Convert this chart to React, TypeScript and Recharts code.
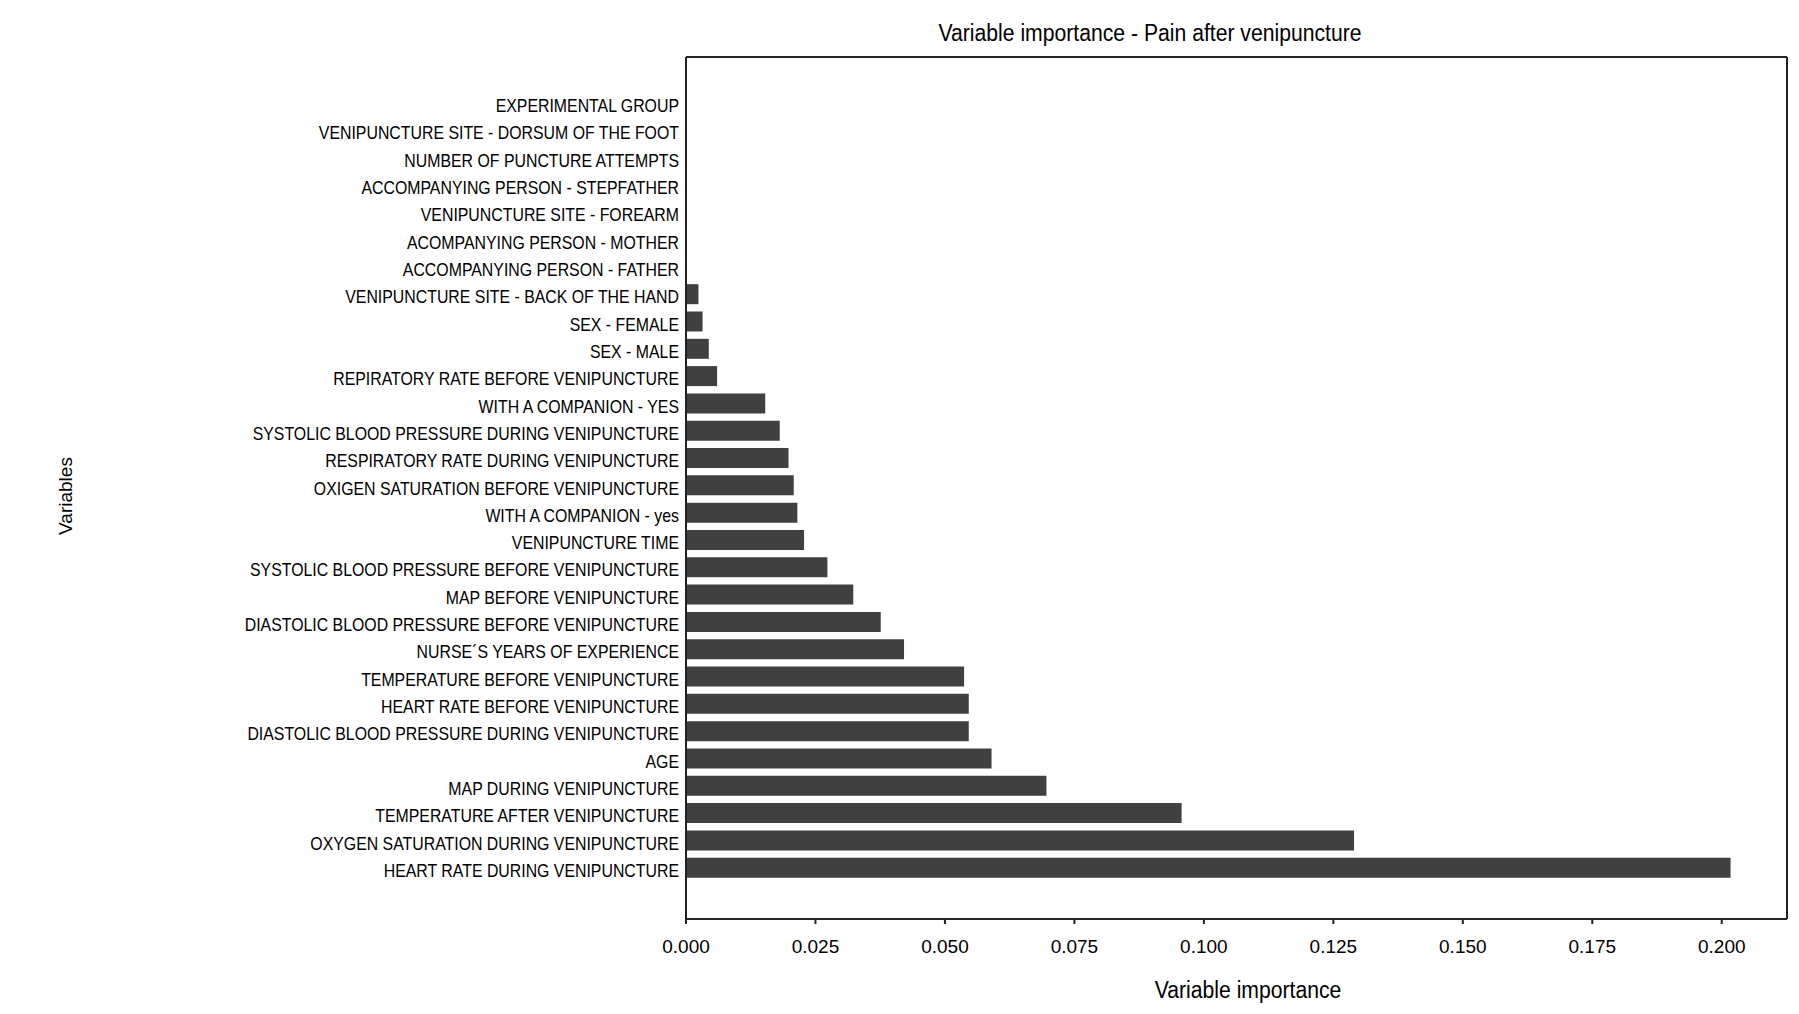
import React from "react";
import { BarChart, Bar, XAxis, YAxis, CartesianGrid } from "recharts";

const variables: string[] = [
  "EXPERIMENTAL GROUP",
  "VENIPUNCTURE SITE - DORSUM OF THE FOOT",
  "NUMBER OF PUNCTURE ATTEMPTS",
  "ACCOMPANYING PERSON - STEPFATHER",
  "VENIPUNCTURE SITE - FOREARM",
  "ACOMPANYING PERSON - MOTHER",
  "ACCOMPANYING PERSON - FATHER",
  "VENIPUNCTURE SITE - BACK OF THE HAND",
  "SEX - FEMALE",
  "SEX - MALE",
  "REPIRATORY RATE BEFORE VENIPUNCTURE",
  "WITH A COMPANION - YES",
  "SYSTOLIC BLOOD PRESSURE DURING VENIPUNCTURE",
  "RESPIRATORY RATE DURING VENIPUNCTURE",
  "OXIGEN SATURATION BEFORE VENIPUNCTURE",
  "WITH A COMPANION - yes",
  "VENIPUNCTURE TIME",
  "SYSTOLIC BLOOD PRESSURE BEFORE VENIPUNCTURE",
  "MAP BEFORE VENIPUNCTURE",
  "DIASTOLIC BLOOD PRESSURE BEFORE VENIPUNCTURE",
  "NURSE´S YEARS OF EXPERIENCE",
  "TEMPERATURE BEFORE VENIPUNCTURE",
  "HEART RATE BEFORE VENIPUNCTURE",
  "DIASTOLIC BLOOD PRESSURE DURING VENIPUNCTURE",
  "AGE",
  "MAP DURING VENIPUNCTURE",
  "TEMPERATURE AFTER VENIPUNCTURE",
  "OXYGEN SATURATION DURING VENIPUNCTURE",
  "HEART RATE DURING VENIPUNCTURE",
];

const importance: number[] = [
  0, 0, 0, 0, 0, 0, 0,
  0.0024, 0.0032, 0.0044, 0.006, 0.0153, 0.0181, 0.0198, 0.0208, 0.0215,
  0.0228, 0.0273, 0.0323, 0.0376, 0.0421, 0.0537, 0.0546, 0.0546, 0.059,
  0.0696, 0.0957, 0.129, 0.2017,
];

const xTicks: number[] = [0, 0.025, 0.05, 0.075, 0.1, 0.125, 0.15, 0.175, 0.2];

const data = variables.map((name, i) => ({ name, value: importance[i] }));

const font = "'Liberation Sans', Arial, sans-serif";

const CategoryTick = (props: any) => {
  const { x, y, payload } = props;
  return (
    <text
      transform={`translate(${x},${y + 3}) scale(0.835,1)`}
      textAnchor="end"
      dominantBaseline="central"
      fontFamily={font}
      fontSize={19}
      fill="#000"
    >
      {payload.value}
    </text>
  );
};

export default function App() {
  return (
    <div
      style={{
        position: "absolute",
        left: 0,
        top: 0,
        width: 1799,
        height: 1014,
        background: "#fff",
        overflow: "hidden",
      }}
    >
      <BarChart
        width={1799}
        height={1014}
        data={data}
        layout="vertical"
        margin={{ top: 57, right: 12, bottom: 0, left: 0 }}
        barSize={20}
      >
        <CartesianGrid
          stroke="#222"
          strokeWidth={2}
          horizontalCoordinatesGenerator={({ offset }: any) => [offset.top]}
          verticalCoordinatesGenerator={({ offset }: any) => [offset.left + offset.width]}
        />
        <XAxis
          type="number"
          domain={[0, 0.2126]}
          ticks={xTicks}
          allowDataOverflow
          tickFormatter={(v: number) => v.toFixed(3)}
          height={95}
          tickSize={5}
          tickMargin={16}
          stroke="#222"
          strokeWidth={2}
          tick={{ fill: "#000", fontSize: 19, fontFamily: font }}
        />
        <YAxis
          type="category"
          dataKey="name"
          width={686}
          interval={0}
          tickLine={false}
          tickSize={0}
          tickMargin={7}
          stroke="#222"
          strokeWidth={2}
          padding={{ top: 32, bottom: 38 }}
          tick={<CategoryTick />}
        />
        <Bar dataKey="value" fill="#404040" isAnimationActive={false} />
      </BarChart>
      <div
        style={{
          position: "absolute",
          left: 1150,
          top: 33,
          transform: "translate(-50%, -50%) scaleX(0.92)",
          fontFamily: font,
          fontSize: 23,
          whiteSpace: "nowrap",
          color: "#000",
        }}
      >
        Variable importance - Pain after venipuncture
      </div>
      <div
        style={{
          position: "absolute",
          left: 1248,
          top: 990,
          transform: "translate(-50%, -50%) scaleX(0.92)",
          fontFamily: font,
          fontSize: 23,
          whiteSpace: "nowrap",
          color: "#000",
        }}
      >
        Variable importance
      </div>
      <div
        style={{
          position: "absolute",
          left: 66,
          top: 496,
          transform: "translate(-50%, -50%) rotate(-90deg)",
          fontFamily: font,
          fontSize: 19,
          whiteSpace: "nowrap",
          color: "#000",
        }}
      >
        Variables
      </div>
    </div>
  );
}
